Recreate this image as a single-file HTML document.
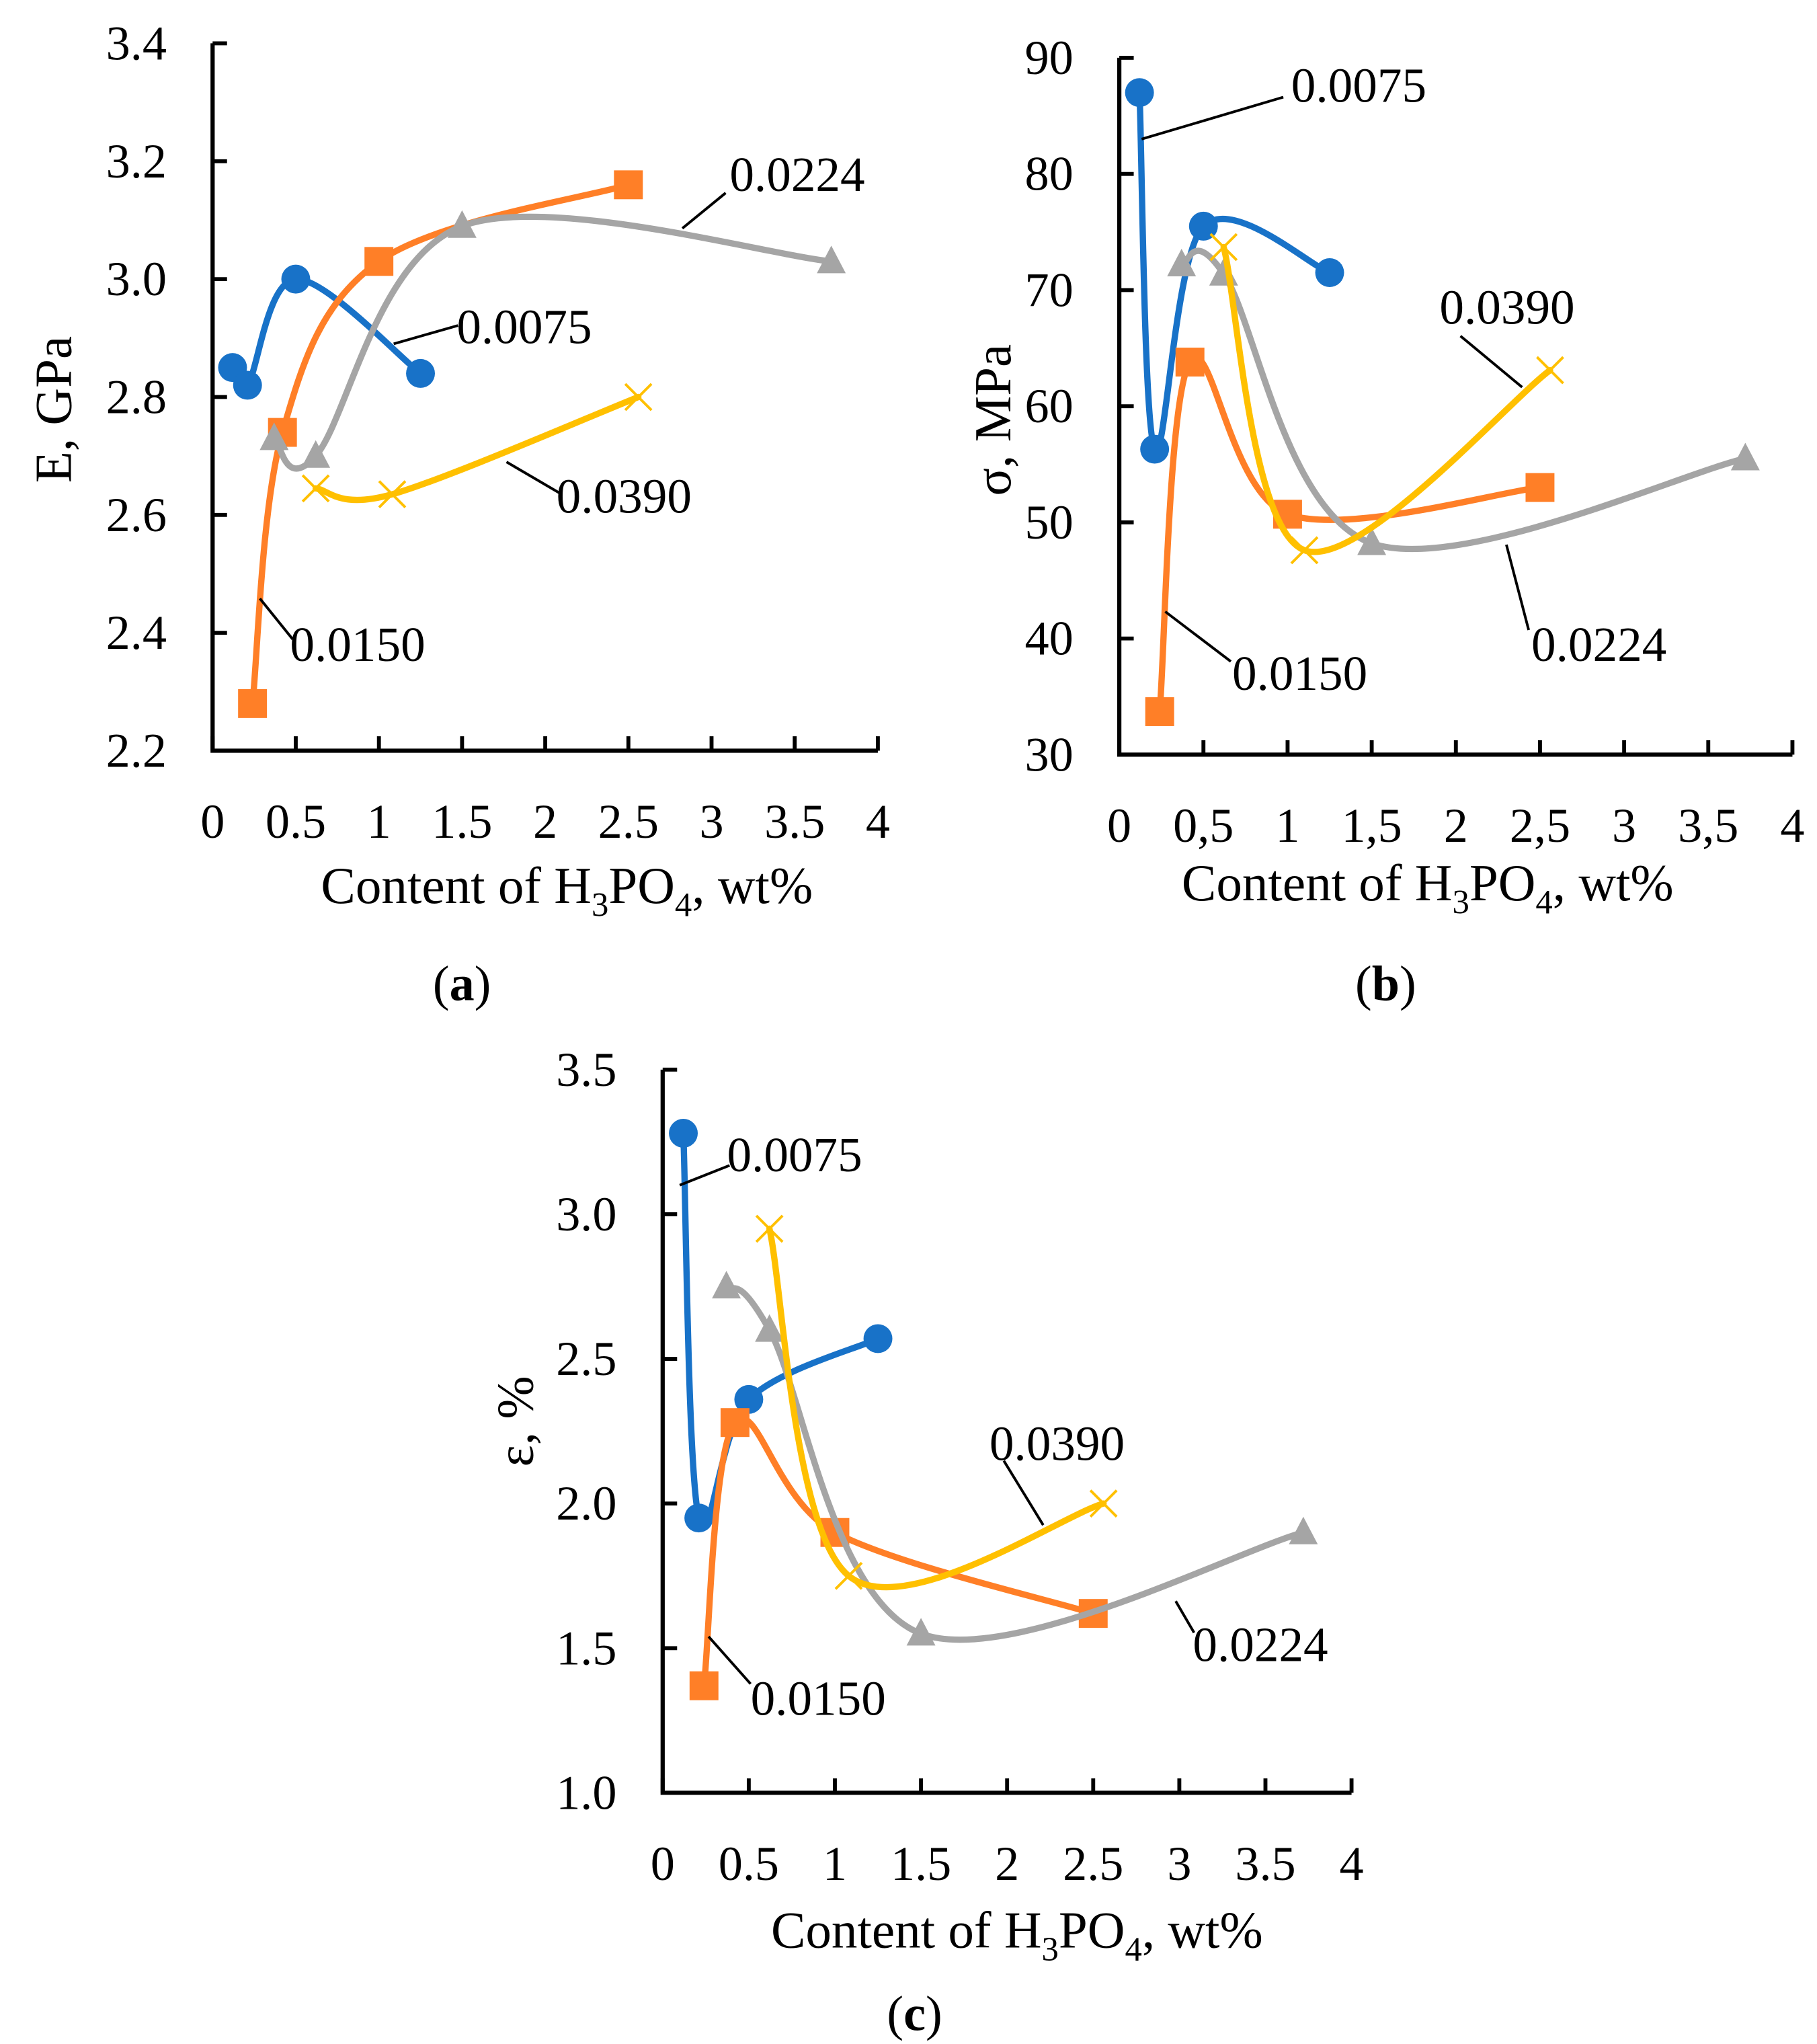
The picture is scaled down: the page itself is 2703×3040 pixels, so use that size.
<!DOCTYPE html>
<html><head><meta charset="utf-8">
<style>
html,body{margin:0;padding:0;background:#fff;}
svg{display:block;}
text{font-family:"Liberation Serif",serif;fill:#000;}
</style></head>
<body>
<svg id="fig" xmlns="http://www.w3.org/2000/svg" width="2703" height="3040" viewBox="0 0 1384.7 1557.4"></svg>
<script>
// ---- shared x data ----
const xTicks = [0, 0.5, 1, 1.5, 2, 2.5, 3, 3.5, 4];
const xTickLabelsDot = ["0", "0.5", "1", "1.5", "2", "2.5", "3", "3.5", "4"];
const xTickLabelsComma = ["0", "0,5", "1", "1,5", "2", "2,5", "3", "3,5", "4"];
// ---- chart (a) E, GPa ----
const aYTicks = [2.2, 2.4, 2.6, 2.8, 3.0, 3.2, 3.4];
const aYTickLabels = ["2.2", "2.4", "2.6", "2.8", "3.0", "3.2", "3.4"];
const aX0075 = [0.12, 0.21, 0.5, 1.25];
const aY0075 = [2.85, 2.82, 3.0, 2.84];
const aX0150 = [0.24, 0.42, 1.0, 2.5];
const aY0150 = [2.28, 2.74, 3.03, 3.16];
const aX0224 = [0.37, 0.62, 1.5, 3.72];
const aY0224 = [2.73, 2.70, 3.09, 3.03];
const aX0390 = [0.62, 1.08, 2.56];
const aY0390 = [2.645, 2.635, 2.80];
// ---- chart (b) sigma, MPa ----
const bYTicks = [30, 40, 50, 60, 70, 80, 90];
const bYTickLabels = ["30", "40", "50", "60", "70", "80", "90"];
const bX0075 = [0.12, 0.21, 0.5, 1.25];
const bY0075 = [87, 56.3, 75.5, 71.5];
const bX0150 = [0.24, 0.42, 1.0, 2.5];
const bY0150 = [33.7, 63.8, 50.7, 53];
const bX0224 = [0.37, 0.62, 1.5, 3.72];
const bY0224 = [72.2, 71.4, 48.2, 55.5];
const bX0390 = [0.62, 1.1, 2.56];
const bY0390 = [73.7, 47.6, 63.1];
// ---- chart (c) epsilon, % ----
const cYTicks = [1.0, 1.5, 2.0, 2.5, 3.0, 3.5];
const cYTickLabels = ["1.0", "1.5", "2.0", "2.5", "3.0", "3.5"];
const cX0075 = [0.12, 0.21, 0.5, 1.25];
const cY0075 = [3.28, 1.95, 2.36, 2.57];
const cX0150 = [0.24, 0.42, 1.0, 2.5];
const cY0150 = [1.37, 2.28, 1.9, 1.62];
const cX0224 = [0.37, 0.62, 1.5, 3.72];
const cY0224 = [2.75, 2.60, 1.55, 1.90];
const cX0390 = [0.62, 1.08, 2.56];
const cY0390 = [2.95, 1.75, 2.0];

const NS = "http://www.w3.org/2000/svg";
const svg = document.getElementById("fig");
function mk(tag, attrs, parent) {
  const e = document.createElementNS(NS, tag);
  for (const k in attrs) e.setAttribute(k, attrs[k]);
  (parent || svg).appendChild(e);
  return e;
}
const COLORS = {"0075": "#1872C8", "0150": "#FF7F27", "0224": "#A5A5A5", "0390": "#FFC000"};

function catmull(pts) {
  let d = "M" + pts[0][0] + "," + pts[0][1];
  for (let i = 0; i < pts.length - 1; i++) {
    const p0 = pts[i - 1] || pts[i], p1 = pts[i], p2 = pts[i + 1], p3 = pts[i + 2] || p2;
    const t = 1 / 6;
    const c1 = [p1[0] + (p2[0] - p0[0]) * t, p1[1] + (p2[1] - p0[1]) * t];
    const c2 = [p2[0] - (p3[0] - p1[0]) * t, p2[1] - (p3[1] - p1[1]) * t];
    d += " C" + c1[0] + "," + c1[1] + " " + c2[0] + "," + c2[1] + " " + p2[0] + "," + p2[1];
  }
  return d;
}

function drawChart(cfg) {
  const g = mk("g", {});
  
  
  const yMin = cfg.yTicks[0], yMax = cfg.yTicks[cfg.yTicks.length - 1];
  const sx = v => cfg.x0 + (v - 0) / 4 * (cfg.x1 - cfg.x0);
  const sy = v => cfg.yb - (v - yMin) / (yMax - yMin) * (cfg.yb - cfg.yt);
  const ax = mk("path", {d: "M" + cfg.x0 + "," + cfg.yt + " V" + cfg.yb + " H" + cfg.x1, stroke: "#000", "stroke-width": 3.2, fill: "none"}, g);
  
  
  cfg.yTicks.forEach((v, i) => {
    const t = mk("line", {x1: cfg.x0, x2: cfg.x0 + 11, y1: sy(v), y2: sy(v), stroke: "#000", "stroke-width": 3}, g);
    
    
    const l = mk("text", {x: cfg.x0 - 35, y: sy(v), "text-anchor": "end", "dominant-baseline": "central", "font-size": 37}, g);
    
    
    l.textContent = cfg.yTickLabels[i];
  });
  xTicks.forEach((v, i) => {
    const t = mk("line", {x1: sx(v), x2: sx(v), y1: cfg.yb, y2: cfg.yb - 11, stroke: "#000", "stroke-width": 3}, g);
    
    
    const l = mk("text", {x: sx(v), y: cfg.yb + 54, "text-anchor": "middle", "dominant-baseline": "central", "font-size": 37}, g);
    
    
    l.textContent = cfg.xTickLabels[i];
  });
  const xt = mk("text", {x: cfg.xtX, y: cfg.xtY, "text-anchor": "middle", "font-size": 39.5}, g);
  
  
  xt.innerHTML = 'Content of H<tspan font-size="26" dy="10">3</tspan><tspan dy="-10">PO</tspan><tspan font-size="26" dy="10">4</tspan><tspan dy="-10">, wt%</tspan>';
  const yt = mk("text", {x: 0, y: 0, "text-anchor": "middle", "font-size": 39.5, transform: "translate(" + cfg.ytX + "," + cfg.ytY + ") rotate(-90)"}, g);
  
  
  yt.textContent = cfg.yTitle;
  const pl = mk("text", {x: cfg.plX, y: cfg.plY, "text-anchor": "middle", "font-size": 38}, g);
  
  
  pl.innerHTML = '(<tspan font-weight="bold">' + cfg.panel + '</tspan>)';
  cfg.series.forEach(s => {
    const col = COLORS[s.key];
    const sg = mk("g", {}, g);
    
    
    const pts = s.xs.map((x, i) => [sx(x), sy(s.ys[i])]);
    const p = mk("path", {d: catmull(pts), stroke: col, "stroke-width": 4.8, fill: "none", "stroke-linecap": "round"}, sg);
    
    
    pts.forEach(pt => {
      let m;
      if (s.key === "0075") m = mk("circle", {cx: pt[0], cy: pt[1], r: 11, fill: col}, sg);
      else if (s.key === "0150") m = mk("rect", {x: pt[0] - 11, y: pt[1] - 11, width: 22, height: 22, fill: col}, sg);
      else if (s.key === "0224") m = mk("path", {d: "M" + pt[0] + "," + (pt[1] - 12) + " L" + (pt[0] + 11) + "," + (pt[1] + 9) + " L" + (pt[0] - 11) + "," + (pt[1] + 9) + "Z", fill: col}, sg);
      else m = mk("path", {d: "M" + (pt[0] - 10) + "," + (pt[1] - 10) + " L" + (pt[0] + 10) + "," + (pt[1] + 10) + " M" + (pt[0] + 10) + "," + (pt[1] - 10) + " L" + (pt[0] - 10) + "," + (pt[1] + 10), stroke: col, "stroke-width": 2, fill: "none"}, sg);
      
      
    });
  });
  cfg.labels.forEach(L => {
    const ln = mk("line", {x1: L.l[0], y1: L.l[1], x2: L.l[2], y2: L.l[3], stroke: "#000", "stroke-width": 2}, g);
    
    
    const t = mk("text", {x: L.x, y: L.y, "dominant-baseline": "central", "font-size": 37.5}, g);
    
    
    t.textContent = L.t;
  });
}

drawChart({name: "chart-a-modulus", panel: "a", x0: 162, x1: 669, yt: 33, yb: 572,
  yTicks: aYTicks, yTickLabels: aYTickLabels, xTickLabels: xTickLabelsDot,
  xtX: 432, xtY: 688, ytX: 54, ytY: 312, yTitle: "E, GPa", plX: 352, plY: 762,
  series: [
    {key: "0075", xs: aX0075, ys: aY0075}, {key: "0150", xs: aX0150, ys: aY0150},
    {key: "0224", xs: aX0224, ys: aY0224}, {key: "0390", xs: aX0390, ys: aY0390}],
  labels: [
    {t: "0.0224", x: 556, y: 133, l: [553, 147, 520, 174]},
    {t: "0.0075", x: 348, y: 249, l: [349, 248, 300, 262]},
    {t: "0.0390", x: 424, y: 378, l: [427, 376, 386, 352]},
    {t: "0.0150", x: 221, y: 491, l: [223, 487, 198, 456]}]
});
drawChart({name: "chart-b-strength", panel: "b", x0: 853, x1: 1366, yt: 44, yb: 575,
  yTicks: bYTicks, yTickLabels: bYTickLabels, xTickLabels: xTickLabelsComma,
  xtX: 1088, xtY: 686, ytX: 770, ytY: 320, yTitle: "σ, MPa", plX: 1056, plY: 762,
  series: [
    {key: "0075", xs: bX0075, ys: bY0075}, {key: "0150", xs: bX0150, ys: bY0150},
    {key: "0224", xs: bX0224, ys: bY0224}, {key: "0390", xs: bX0390, ys: bY0390}],
  labels: [
    {t: "0.0075", x: 984, y: 65, l: [978, 74, 870, 106]},
    {t: "0.0390", x: 1097, y: 234, l: [1113, 256, 1160, 295]},
    {t: "0.0224", x: 1167, y: 491, l: [1165, 480, 1148, 415]},
    {t: "0.0150", x: 939, y: 513, l: [938, 504, 888, 466]}]
});
drawChart({name: "chart-c-elongation", panel: "c", x0: 505, x1: 1030, yt: 815, yb: 1366,
  yTicks: cYTicks, yTickLabels: cYTickLabels, xTickLabels: xTickLabelsDot,
  xtX: 775, xtY: 1484, ytX: 406, ytY: 1083, yTitle: "ε, %", plX: 697, plY: 1547,
  series: [
    {key: "0075", xs: cX0075, ys: cY0075}, {key: "0150", xs: cX0150, ys: cY0150},
    {key: "0224", xs: cX0224, ys: cY0224}, {key: "0390", xs: cX0390, ys: cY0390}],
  labels: [
    {t: "0.0075", x: 554, y: 880, l: [556, 888, 518, 903]},
    {t: "0.0390", x: 754, y: 1100, l: [765, 1113, 795, 1162]},
    {t: "0.0224", x: 909, y: 1253, l: [910, 1244, 896, 1220]},
    {t: "0.0150", x: 572, y: 1294, l: [572, 1283, 540, 1247]}]
});
</script>
</body></html>
